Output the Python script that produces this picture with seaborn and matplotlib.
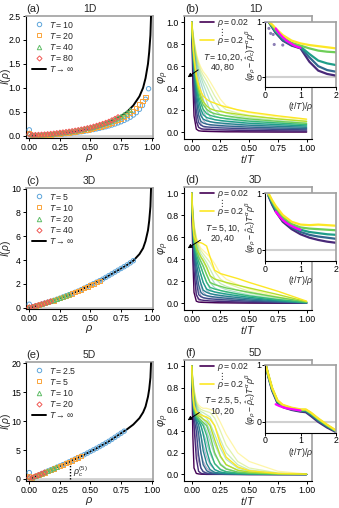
import numpy as np
import pandas as pd
import matplotlib
matplotlib.use("Agg")
import matplotlib.pyplot as plt
import seaborn as sns
from matplotlib.lines import Line2D

# ---------------- data ----------------
# left column: I(rho), infinite-T curve
rho_curve = [0, 0.05, 0.1, 0.15, 0.2, 0.25, 0.3, 0.35, 0.4, 0.45, 0.5, 0.55, 0.6,
             0.65, 0.7, 0.75, 0.8, 0.85, 0.9, 0.93, 0.95, 0.97, 0.98, 0.99, 0.995]
I_inf_1d = [0, 0.003, 0.01, 0.02, 0.033, 0.05, 0.065, 0.083, 0.105, 0.13, 0.16, 0.195, 0.235,
            0.28, 0.34, 0.41, 0.5, 0.63, 0.82, 1.0, 1.2, 1.5, 1.75, 2.1, 2.5]
I_inf_3d = [0, 0.15, 0.3, 0.46, 0.62, 0.8, 1.0, 1.2, 1.4, 1.65, 1.9, 2.15, 2.4,
            2.7, 3.0, 3.3, 3.6, 3.95, 4.5, 5.0, 5.6, 6.5, 7.3, 8.5, 10.0]
I_inf_5d = [0, 0.45, 0.9, 1.35, 1.8, 2.25, 2.7, 3.2, 3.7, 4.2, 4.75, 5.3, 5.9,
            6.5, 7.2, 7.9, 8.6, 9.4, 10.5, 11.5, 12.5, 14.2, 15.5, 17.5, 20.0]

# finite-T points, rho = 0, 0.025, 0.05, ...
rho_step = 0.025
I_1d = {
    "10": [0.12, 0.005, 0.004, 0.005, 0.006, 0.008, 0.011, 0.015, 0.019, 0.024, 0.03, 0.036,
           0.042, 0.049, 0.056, 0.064, 0.073, 0.082, 0.092, 0.103, 0.115, 0.128, 0.141, 0.155,
           0.17, 0.186, 0.203, 0.222, 0.243, 0.266, 0.29, 0.318, 0.35, 0.385, 0.43, 0.48, 0.55,
           0.63, 0.76, 0.98],
    "20": [0.06, 0.008, 0.007, 0.008, 0.01, 0.013, 0.017, 0.022, 0.028, 0.035, 0.043, 0.05,
           0.057, 0.065, 0.073, 0.083, 0.093, 0.104, 0.116, 0.129, 0.143, 0.158, 0.174, 0.191,
           0.209, 0.228, 0.248, 0.272, 0.297, 0.325, 0.355, 0.39, 0.425, 0.47, 0.52, 0.58, 0.65,
           0.73, 0.81],
    "40": [0.05, 0.01, 0.01, 0.012, 0.015, 0.019, 0.024, 0.03, 0.037, 0.045, 0.054, 0.061,
           0.069, 0.078, 0.087, 0.098, 0.109, 0.121, 0.134, 0.149, 0.164, 0.18, 0.198, 0.217,
           0.237, 0.258, 0.28, 0.308, 0.336, 0.368, 0.4, 0.44, 0.48, 0.53],
    "80": [0.03, 0.012, 0.013, 0.016, 0.02, 0.025, 0.03, 0.036, 0.043, 0.051, 0.06, 0.067,
           0.075, 0.084, 0.093, 0.104, 0.115, 0.127, 0.14, 0.155, 0.17, 0.187, 0.205, 0.225,
           0.245, 0.267, 0.29, 0.32, 0.35, 0.385],
}
I_3d = {
    "5": [0.3, 0.07, 0.15, 0.22, 0.3, 0.38, 0.46, 0.54, 0.62, 0.71, 0.8, 0.9, 1.0, 1.1, 1.2,
          1.3, 1.4, 1.52, 1.65, 1.77, 1.9, 2.02, 2.15, 2.27, 2.4, 2.55, 2.7, 2.85, 3.0, 3.15,
          3.3, 3.45, 3.6, 3.77, 3.95],
    "10": [0.1, 0.07, 0.15, 0.22, 0.3, 0.38, 0.46, 0.54, 0.62, 0.71, 0.8, 0.9, 1.0, 1.1, 1.2,
           1.3, 1.4, 1.52, 1.65, 1.77, 1.9, 2.02, 2.15, 2.27],
    "20": [0.05, 0.07, 0.15, 0.22, 0.3, 0.38, 0.46, 0.54, 0.62, 0.71, 0.8, 0.9, 1.0, 1.1],
    "40": [0.03, 0.07, 0.15, 0.22, 0.3, 0.38, 0.46, 0.54],
}
I_5d = {
    "2.5": [1.1, 0.22, 0.45, 0.67, 0.9, 1.12, 1.35, 1.57, 1.8, 2.02, 2.25, 2.47, 2.7, 2.95,
            3.2, 3.45, 3.7, 3.95, 4.2, 4.47, 4.75, 5.02, 5.3, 5.6, 5.9, 6.2, 6.5, 6.85, 7.2,
            7.55, 7.9, 8.25],
    "5": [0.5, 0.22, 0.45, 0.67, 0.9, 1.12, 1.35, 1.57, 1.8, 2.02, 2.25, 2.47, 2.7, 2.95,
          3.2, 3.45, 3.7, 3.95],
    "10": [0.3, 0.22, 0.45, 0.67, 0.9, 1.12, 1.35, 1.57, 1.8, 2.02],
    "20": [0.2, 0.22, 0.45, 0.67, 0.9, 1.12],
}
rho_c5 = 0.33
I_at_rho_c5 = 3.0

# right column: phi_rho(t/T) for rho = 0.02 ... 0.2
rho_lines = [0.02, 0.04, 0.06, 0.08, 0.10, 0.12, 0.14, 0.16, 0.18, 0.20]
t_grid = [0, 0.01, 0.02, 0.04, 0.06, 0.08, 0.1, 0.13, 0.16, 0.2, 0.25, 0.3, 0.4, 0.5, 0.75, 1.0]

phi_1d_big = [
    [1.0, 0.45, 0.15, 0.03, 0.015, 0.012, 0.01, 0.009, 0.008, 0.007, 0.006, 0.005, 0.005, 0.004, 0.003, 0.003],
    [1.0, 0.6, 0.35, 0.1, 0.045, 0.035, 0.03, 0.028, 0.026, 0.024, 0.022, 0.021, 0.019, 0.017, 0.014, 0.012],
    [1.0, 0.68, 0.45, 0.2, 0.09, 0.065, 0.055, 0.05, 0.047, 0.044, 0.041, 0.039, 0.035, 0.032, 0.027, 0.023],
    [1.0, 0.72, 0.52, 0.3, 0.16, 0.1, 0.085, 0.075, 0.07, 0.066, 0.062, 0.058, 0.053, 0.048, 0.04, 0.034],
    [1.0, 0.75, 0.57, 0.36, 0.23, 0.15, 0.12, 0.105, 0.097, 0.09, 0.085, 0.08, 0.072, 0.065, 0.055, 0.046],
    [1.0, 0.77, 0.6, 0.41, 0.29, 0.21, 0.16, 0.135, 0.125, 0.115, 0.108, 0.102, 0.092, 0.083, 0.07, 0.058],
    [1.0, 0.78, 0.63, 0.45, 0.33, 0.26, 0.21, 0.17, 0.155, 0.142, 0.133, 0.125, 0.113, 0.102, 0.085, 0.07],
    [1.0, 0.8, 0.65, 0.48, 0.37, 0.3, 0.25, 0.21, 0.185, 0.17, 0.158, 0.15, 0.135, 0.122, 0.1, 0.082],
    [1.0, 0.81, 0.67, 0.5, 0.4, 0.33, 0.28, 0.24, 0.215, 0.2, 0.19, 0.18, 0.165, 0.15, 0.122, 0.1],
    [1.0, 0.82, 0.69, 0.52, 0.43, 0.37, 0.33, 0.3, 0.28, 0.265, 0.245, 0.23, 0.205, 0.185, 0.15, 0.12],
]
phi_1d_small = [
    [1.0, 0.7, 0.4, 0.12, 0.05, 0.03, 0.02, 0.015, 0.012, 0.01, 0.009, 0.008, 0.007, 0.006, 0.005, 0.004],
    [1.0, 0.8, 0.6, 0.3, 0.15, 0.08, 0.05, 0.04, 0.035, 0.03, 0.028, 0.026, 0.023, 0.021, 0.017, 0.014],
    [1.0, 0.85, 0.68, 0.45, 0.3, 0.18, 0.11, 0.075, 0.065, 0.058, 0.053, 0.05, 0.045, 0.04, 0.033, 0.027],
    [1.0, 0.87, 0.73, 0.53, 0.4, 0.3, 0.2, 0.12, 0.095, 0.085, 0.078, 0.072, 0.064, 0.058, 0.047, 0.038],
    [1.0, 0.88, 0.76, 0.58, 0.47, 0.38, 0.3, 0.2, 0.14, 0.115, 0.103, 0.095, 0.085, 0.076, 0.062, 0.05],
    [1.0, 0.89, 0.78, 0.62, 0.52, 0.45, 0.38, 0.28, 0.2, 0.15, 0.13, 0.12, 0.105, 0.095, 0.077, 0.062],
    [1.0, 0.9, 0.8, 0.65, 0.56, 0.5, 0.44, 0.36, 0.28, 0.2, 0.16, 0.145, 0.127, 0.114, 0.092, 0.075],
    [1.0, 0.9, 0.82, 0.68, 0.59, 0.53, 0.48, 0.42, 0.35, 0.27, 0.2, 0.175, 0.15, 0.135, 0.108, 0.087],
    [1.0, 0.91, 0.83, 0.7, 0.62, 0.56, 0.52, 0.47, 0.41, 0.33, 0.25, 0.205, 0.175, 0.155, 0.123, 0.1],
    [1.0, 0.92, 0.84, 0.72, 0.64, 0.59, 0.55, 0.51, 0.46, 0.39, 0.3, 0.24, 0.2, 0.178, 0.14, 0.115],
]
phi_3d_big = [
    [1.0, 0.4, 0.1, 0.02, 0.012, 0.01, 0.009, 0.008, 0.007, 0.006, 0.005, 0.005, 0.004, 0.003, 0.002, 0.001],
    [1.0, 0.55, 0.3, 0.08, 0.04, 0.032, 0.028, 0.025, 0.022, 0.02, 0.018, 0.016, 0.013, 0.01, 0.005, 0.002],
    [1.0, 0.62, 0.42, 0.2, 0.08, 0.06, 0.052, 0.046, 0.042, 0.038, 0.034, 0.031, 0.025, 0.02, 0.01, 0.003],
    [1.0, 0.66, 0.48, 0.3, 0.17, 0.1, 0.08, 0.07, 0.064, 0.058, 0.052, 0.047, 0.038, 0.03, 0.015, 0.004],
    [1.0, 0.69, 0.52, 0.36, 0.26, 0.18, 0.12, 0.1, 0.088, 0.08, 0.072, 0.065, 0.053, 0.042, 0.021, 0.005],
    [1.0, 0.71, 0.55, 0.41, 0.33, 0.26, 0.19, 0.13, 0.115, 0.104, 0.094, 0.085, 0.069, 0.055, 0.027, 0.006],
    [1.0, 0.72, 0.57, 0.45, 0.38, 0.33, 0.27, 0.19, 0.145, 0.13, 0.117, 0.106, 0.086, 0.068, 0.034, 0.008],
    [1.0, 0.73, 0.59, 0.48, 0.42, 0.38, 0.34, 0.26, 0.19, 0.17, 0.155, 0.14, 0.12, 0.1, 0.055, 0.012],
    [1.0, 0.74, 0.6, 0.51, 0.46, 0.42, 0.39, 0.33, 0.25, 0.22, 0.205, 0.19, 0.165, 0.14, 0.08, 0.016],
    [1.0, 0.75, 0.62, 0.56, 0.55, 0.55, 0.54, 0.52, 0.42, 0.3, 0.27, 0.255, 0.225, 0.19, 0.11, 0.02],
]
phi_3d_small = [
    [1.0, 0.6, 0.3, 0.08, 0.03, 0.02, 0.015, 0.012, 0.01, 0.008, 0.007, 0.006, 0.004, 0.003, 0.002, 0.001],
    [1.0, 0.72, 0.5, 0.25, 0.12, 0.07, 0.05, 0.04, 0.033, 0.028, 0.024, 0.021, 0.016, 0.012, 0.006, 0.002],
    [1.0, 0.76, 0.58, 0.38, 0.25, 0.16, 0.1, 0.07, 0.058, 0.05, 0.043, 0.038, 0.029, 0.022, 0.011, 0.003],
    [1.0, 0.78, 0.62, 0.45, 0.34, 0.26, 0.19, 0.12, 0.09, 0.075, 0.065, 0.057, 0.045, 0.035, 0.017, 0.004],
    [1.0, 0.8, 0.65, 0.5, 0.4, 0.33, 0.27, 0.19, 0.13, 0.1, 0.088, 0.078, 0.062, 0.048, 0.024, 0.005],
    [1.0, 0.81, 0.67, 0.53, 0.44, 0.38, 0.33, 0.26, 0.19, 0.14, 0.115, 0.1, 0.08, 0.062, 0.03, 0.006],
    [1.0, 0.82, 0.69, 0.55, 0.47, 0.42, 0.38, 0.32, 0.25, 0.18, 0.145, 0.125, 0.1, 0.077, 0.037, 0.008],
    [1.0, 0.83, 0.7, 0.57, 0.5, 0.45, 0.42, 0.37, 0.31, 0.23, 0.18, 0.155, 0.12, 0.093, 0.045, 0.01],
    [1.0, 0.84, 0.71, 0.59, 0.52, 0.48, 0.45, 0.41, 0.37, 0.29, 0.22, 0.185, 0.145, 0.11, 0.053, 0.012],
    [1.0, 0.85, 0.72, 0.6, 0.54, 0.5, 0.48, 0.45, 0.42, 0.36, 0.27, 0.22, 0.17, 0.13, 0.062, 0.015],
]
phi_5d_big = [
    [1.0, 0.35, 0.06, 0.01, 0.005, 0.003, 0.002, 0.001, 0.001, 0.001, 0.001, 0.001, 0.0, 0.0, 0.0, 0.0],
    [1.0, 0.6, 0.45, 0.15, 0.03, 0.012, 0.006, 0.004, 0.003, 0.002, 0.002, 0.001, 0.001, 0.0, 0.0, 0.0],
    [1.0, 0.65, 0.52, 0.4, 0.18, 0.06, 0.025, 0.012, 0.008, 0.005, 0.004, 0.003, 0.002, 0.001, 0.0, 0.0],
    [1.0, 0.68, 0.55, 0.48, 0.38, 0.2, 0.09, 0.035, 0.018, 0.01, 0.007, 0.005, 0.003, 0.002, 0.001, 0.0],
    [1.0, 0.7, 0.57, 0.5, 0.46, 0.36, 0.22, 0.1, 0.045, 0.02, 0.012, 0.008, 0.005, 0.003, 0.001, 0.0],
    [1.0, 0.72, 0.58, 0.52, 0.49, 0.45, 0.37, 0.22, 0.11, 0.045, 0.022, 0.014, 0.008, 0.005, 0.002, 0.001],
    [1.0, 0.73, 0.6, 0.53, 0.5, 0.48, 0.45, 0.36, 0.22, 0.1, 0.045, 0.025, 0.013, 0.008, 0.003, 0.001],
    [1.0, 0.74, 0.61, 0.54, 0.52, 0.5, 0.48, 0.45, 0.36, 0.2, 0.09, 0.05, 0.022, 0.013, 0.005, 0.002],
    [1.0, 0.75, 0.62, 0.56, 0.54, 0.53, 0.51, 0.49, 0.45, 0.32, 0.17, 0.09, 0.04, 0.022, 0.007, 0.003],
    [1.0, 0.76, 0.64, 0.58, 0.56, 0.55, 0.54, 0.53, 0.51, 0.45, 0.28, 0.16, 0.07, 0.035, 0.01, 0.004],
]
phi_5d_small = [
    [1.0, 0.75, 0.5, 0.25, 0.12, 0.06, 0.03, 0.015, 0.008, 0.005, 0.003, 0.002, 0.001, 0.0, 0.0, 0.0],
    [1.0, 0.8, 0.62, 0.45, 0.32, 0.2, 0.12, 0.06, 0.03, 0.015, 0.008, 0.005, 0.003, 0.002, 0.0, 0.0],
    [1.0, 0.82, 0.67, 0.52, 0.44, 0.36, 0.27, 0.16, 0.09, 0.045, 0.022, 0.012, 0.006, 0.003, 0.001, 0.0],
    [1.0, 0.83, 0.7, 0.56, 0.5, 0.45, 0.39, 0.29, 0.19, 0.1, 0.05, 0.028, 0.012, 0.006, 0.002, 0.0],
    [1.0, 0.84, 0.72, 0.59, 0.53, 0.5, 0.47, 0.4, 0.3, 0.18, 0.1, 0.055, 0.022, 0.011, 0.003, 0.001],
    [1.0, 0.85, 0.74, 0.61, 0.56, 0.53, 0.51, 0.47, 0.4, 0.28, 0.16, 0.09, 0.038, 0.018, 0.005, 0.001],
    [1.0, 0.86, 0.75, 0.63, 0.58, 0.56, 0.54, 0.52, 0.47, 0.37, 0.24, 0.14, 0.06, 0.028, 0.007, 0.002],
    [1.0, 0.87, 0.77, 0.65, 0.6, 0.58, 0.57, 0.55, 0.53, 0.45, 0.32, 0.2, 0.09, 0.042, 0.01, 0.003],
    [1.0, 0.88, 0.78, 0.66, 0.62, 0.6, 0.59, 0.58, 0.57, 0.52, 0.4, 0.27, 0.12, 0.06, 0.015, 0.004],
    [1.0, 0.88, 0.79, 0.68, 0.64, 0.62, 0.61, 0.61, 0.6, 0.58, 0.48, 0.37, 0.2, 0.12, 0.03, 0.005],
]

# insets: scaled curves vs (t/T)/rho
rho_ins = [0.04, 0.08, 0.12, 0.16, 0.20]
x_ins = [0.1, 0.2, 0.3, 0.5, 0.75, 1.0, 1.25, 1.5, 1.75, 2.0]
ins_1d = [
    [1.0, 0.9, 0.8, 0.66, 0.57, 0.52, 0.28, 0.12, 0.06, 0.03],
    [1.0, 0.91, 0.81, 0.67, 0.58, 0.53, 0.36, 0.2, 0.13, 0.1],
    [1.0, 0.92, 0.83, 0.69, 0.6, 0.55, 0.42, 0.3, 0.25, 0.22],
    [1.0, 0.93, 0.85, 0.72, 0.62, 0.57, 0.52, 0.48, 0.46, 0.45],
    [1.0, 0.95, 0.88, 0.76, 0.66, 0.61, 0.58, 0.56, 0.54, 0.52],
]
ins_3d = [
    [0.95, 0.8, 0.68, 0.5, 0.37, 0.28, 0.22, 0.18, 0.15, 0.13],
    [0.96, 0.82, 0.7, 0.52, 0.4, 0.32, 0.27, 0.24, 0.22, 0.2],
    [0.97, 0.84, 0.72, 0.55, 0.43, 0.36, 0.32, 0.3, 0.28, 0.27],
    [0.98, 0.86, 0.75, 0.58, 0.46, 0.4, 0.38, 0.37, 0.36, 0.35],
    [1.0, 0.88, 0.78, 0.62, 0.5, 0.45, 0.44, 0.45, 0.44, 0.43],
]
x_ins_5d = [0.02, 0.1, 0.2, 0.35, 0.5, 0.75, 1.0, 1.15, 1.3, 1.5, 1.75, 2.0]
ins_5d = [
    [1.0, 0.78, 0.55, 0.33, 0.26, 0.21, 0.18, 0.17, 0.1, 0.0, -0.1, -0.18],
    [1.0, 0.79, 0.57, 0.35, 0.27, 0.22, 0.19, 0.19, 0.12, 0.02, -0.08, -0.17],
    [1.0, 0.8, 0.58, 0.36, 0.28, 0.23, 0.2, 0.2, 0.14, 0.04, -0.07, -0.16],
    [1.0, 0.81, 0.59, 0.37, 0.29, 0.24, 0.21, 0.21, 0.15, 0.05, -0.06, -0.16],
    [1.0, 0.82, 0.6, 0.38, 0.3, 0.25, 0.22, 0.22, 0.16, 0.06, -0.05, -0.15],
]
x_fit = [0.3, 0.4, 0.5, 0.6, 0.7, 0.8, 0.9, 1.0]
fit_1d = [0.88, 0.79, 0.72, 0.66, 0.62, 0.58, 0.55, 0.53]
fit_3d = [0.68, 0.6, 0.53, 0.48, 0.44, 0.41, 0.38, 0.36]
fit_5d = [0.31, 0.28, 0.26, 0.24, 0.23, 0.22, 0.21, 0.2]
noise_x_1d = [0.02, 0.11, 0.16, 0.23, 0.26, 0.5]
noise_y_1d = [1.0, 0.88, 0.79, 0.77, 0.59, 0.58]

# ---------------- styling ----------------
sns.set_theme(style="ticks")
plt.rcParams["font.family"] = ["Liberation Sans", "DejaVu Sans"]
plt.rcParams["mathtext.fontset"] = "custom"
plt.rcParams["mathtext.rm"] = "Liberation Sans"
plt.rcParams["mathtext.it"] = "Liberation Sans:italic"
plt.rcParams["mathtext.bf"] = "Liberation Sans:bold"

FS = 6.3
T_colors = ["#5DA5DA", "#FAA43A", "#60BD68", "#F15854"]
T_markers = ["o", "s", "^", "D"]
T_msize = [10, 9, 10, 7]

W, H = 339, 508
fig = plt.figure(figsize=(W / 100, H / 100), dpi=100)


def add_ax(l, t, r, b):
    return fig.add_axes([l / W, 1 - b / H, (r - l) / W, (b - t) / H])


def frame(ax, length=2.5, pad=1.2):
    for s in ["left", "bottom"]:
        ax.spines[s].set_color("black")
        ax.spines[s].set_linewidth(0.8)
    for s in ["top", "right"]:
        ax.spines[s].set_color("#a0a0a0")
        ax.spines[s].set_linewidth(1.2)
    ax.tick_params(labelsize=FS, length=length, width=0.7, pad=pad, colors="black")


def long_frame(xs, rows, rhos):
    recs = []
    for r, row in zip(rhos, rows):
        for x, y in zip(xs, row):
            recs.append((x, y, r))
    return pd.DataFrame(recs, columns=["x", "y", "rho"])


# ---------------- left column ----------------
left_specs = [
    ("(a)", "1D", I_inf_1d, I_1d, (16, 138), (-0.05, 2.5), [0, 0.5, 1.0, 1.5, 2.0, 2.5], "{:.1f}"),
    ("(c)", "3D", I_inf_3d, I_3d, (188, 309), (-0.1, 10.05), [0, 2, 4, 6, 8, 10], "{:.0f}"),
    ("(e)", "5D", I_inf_5d, I_5d, (362, 481), (-0.35, 20.2), [0, 5, 10, 15, 20], "{:.0f}"),
]
for tag, dim, I_inf, I_T, (top, bot), ylim, yt, yfmt in left_specs:
    ax = add_ax(26, top, 153, bot)
    frame(ax)
    ax.axhline(0, color="#d0d0d0", lw=2.0, zorder=0)
    sns.lineplot(x=rho_curve, y=I_inf, ax=ax, color="black", lw=1.4, zorder=3)
    handles = []
    for (lab, vals), c, m, s in zip(I_T.items(), T_colors, T_markers, T_msize):
        xs = [round(i * rho_step, 3) for i in range(len(vals))]
        sns.scatterplot(x=xs, y=vals, ax=ax, marker=m, s=s, zorder=4)
        coll = ax.collections[-1]
        coll.set_facecolor("none")
        coll.set_edgecolor(c)
        coll.set_linewidth(0.7)
        handles.append(Line2D([], [], ls="none", marker=m, mfc="none", mec=c,
                              ms=3.2 if m != "D" else 2.6, mew=0.7, label=f"$T = {lab}$"))
    handles.append(Line2D([], [], color="black", lw=1.4, label=r"$T \rightarrow \infty$"))
    ax.legend(handles=handles, loc="upper left", bbox_to_anchor=(0.02, 1.0), frameon=False,
              fontsize=FS, handlelength=1.6, handletextpad=0.3, labelspacing=0.12,
              borderaxespad=0.2, borderpad=0.2)
    ax.set_xlim(-0.027, 1.011)
    ax.set_ylim(*ylim)
    ax.set_xticks([0, 0.25, 0.5, 0.75, 1.0])
    ax.set_xticklabels(["0.00", "0.25", "0.50", "0.75", "1.00"])
    ax.set_yticks(yt)
    ax.set_yticklabels([yfmt.format(v) for v in yt])
    ax.set_xlabel(r"$\rho$", fontsize=8, labelpad=0.0)
    ax.set_ylabel(r"$I(\rho)$", fontsize=7.4)
    ax.yaxis.set_label_coords(-0.106, 0.5)
    ax.text(0.0, 1.015, tag, transform=ax.transAxes, fontsize=8, ha="left", va="bottom")
    ax.text(0.5, 1.015, dim, transform=ax.transAxes, fontsize=7.5, ha="center", va="bottom")
    if dim == "5D":
        ax.plot([rho_c5, rho_c5], [0, I_at_rho_c5], color="black", ls=(0, (1, 1.2)), lw=1.0)
        ax.text(rho_c5 + 0.03, 1.2, r"$\rho_c^{(5)}$", fontsize=FS, ha="left", va="center")

# ---------------- right column ----------------
right_specs = [
    ("(b)", "1D", phi_1d_big, phi_1d_small, (16, 139), "$T = 10, 20,$\n$40, 80$",
     (265, 21.7, 336, 87.3), (-0.18, 1.0), ins_1d, x_ins, fit_1d),
    ("(d)", "3D", phi_3d_big, phi_3d_small, (187, 310), "$T = 5, 10,$\n$20, 40$",
     (265, 193.3, 336, 261), (-0.19, 1.0), ins_3d, x_ins, fit_3d),
    ("(f)", "5D", phi_5d_big, phi_5d_small, (360, 481), "$T = 2.5, 5,$\n$10, 20$",
     (265, 365, 336, 432.7), (-0.19, 1.0), ins_5d, x_ins_5d, fit_5d),
]
vir = sns.color_palette("viridis", as_cmap=True)
for tag, dim, big, small, (top, bot), Tlab, ins_box, ins_ylim, ins_rows, ins_x, fit in right_specs:
    ax = add_ax(184, top, 312, bot)
    frame(ax)
    sns.lineplot(data=long_frame(t_grid, small, rho_lines), x="x", y="y", hue="rho",
                 palette="viridis", hue_norm=(0.02, 0.2), legend=False, ax=ax, lw=0.9, alpha=0.4)
    sns.lineplot(data=long_frame(t_grid, big, rho_lines), x="x", y="y", hue="rho",
                 palette="viridis", hue_norm=(0.02, 0.2), legend=False, ax=ax, lw=1.0)
    ax.set_xlim(-0.067, 1.047)
    ax.set_ylim(-0.06, 1.055)
    ax.set_xticks([0, 0.25, 0.5, 0.75, 1.0])
    ax.set_xticklabels(["0.00", "0.25", "0.50", "0.75", "1.00"])
    ax.set_yticks([0, 0.2, 0.4, 0.6, 0.8, 1.0])
    ax.set_yticklabels(["0.0", "0.2", "0.4", "0.6", "0.8", "1.0"])
    ax.set_xlabel(r"$t/T$", fontsize=8, labelpad=0.0)
    ax.set_ylabel(r"$\varphi_\rho$", fontsize=8)
    ax.yaxis.set_label_coords(-0.1, 0.5)
    ax.text(0.01, 1.015, tag, transform=ax.transAxes, fontsize=8, ha="left", va="bottom")
    ax.text(0.56, 1.015, dim, transform=ax.transAxes, fontsize=7.5, ha="center", va="bottom")
    lh = [Line2D([], [], color=vir(0.0), lw=1.2, label=r"$\rho = 0.02$"),
          Line2D([], [], color="none", label="\u22ee"),
          Line2D([], [], color=vir(1.0), lw=1.2, label=r"$\rho = 0.2$")]
    ax.legend(handles=lh, loc="upper left", bbox_to_anchor=(0.1, 1.02), frameon=False,
              fontsize=FS, handlelength=1.6, handletextpad=0.3, labelspacing=-0.15,
              borderaxespad=0.2, borderpad=0.2)
    ax.annotate(Tlab, xy=(-0.035, 0.5), xytext=(0.27, 0.63), fontsize=FS, ha="center",
                va="center", linespacing=1.05,
                arrowprops=dict(arrowstyle="-|>", color="black", lw=0.7, mutation_scale=6,
                                shrinkA=1, shrinkB=0, relpos=(0.1, 0.45)))

    # inset
    ia = add_ax(*ins_box)
    ia.set_facecolor("white")
    frame(ia, length=2.0, pad=0.6)
    ia.axhline(0, color="#d0d0d0", lw=1.5, zorder=0)
    sns.lineplot(data=long_frame(ins_x, ins_rows, rho_ins), x="x", y="y", hue="rho",
                 palette="viridis", hue_norm=(0.02, 0.2), legend=False, ax=ia, lw=1.6)
    if dim == "1D":
        sns.scatterplot(x=noise_x_1d, y=noise_y_1d, ax=ia, s=5, color="#8c7fb5",
                        edgecolor="none", zorder=3)
    sns.lineplot(x=x_fit, y=fit, ax=ia, color="#ff00ff", lw=1.6, zorder=5)
    ia.set_xlim(0, 2)
    ia.set_ylim(*ins_ylim)
    ia.set_xticks([0, 1, 2])
    ia.set_yticks([0, 1])
    ia.set_xlabel(r"$(t/T)/\rho$", fontsize=FS, labelpad=0.3)
    ia.set_ylabel(r"$(\varphi_\rho - \hat{\rho}_c)T^{\alpha}\rho^{\beta}$", fontsize=FS)
    ia.yaxis.set_label_coords(-0.105, 0.5)

fig.savefig("out.png", dpi=100)
